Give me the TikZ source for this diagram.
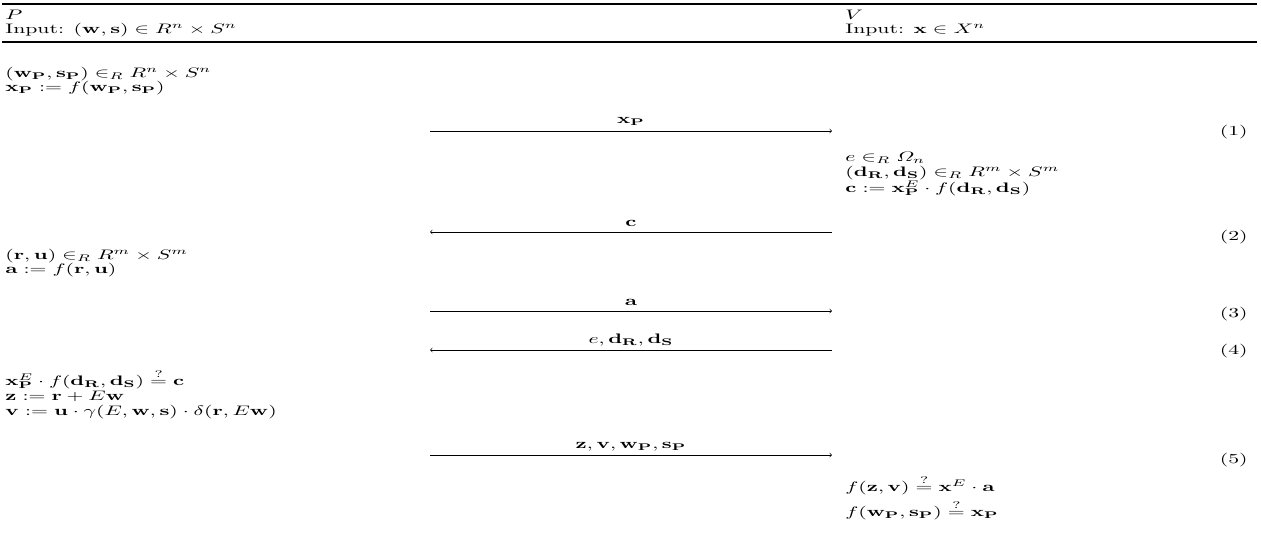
\documentclass[tikz,border=0pt]{standalone}
\usepackage{amsmath,amssymb}
\newcommand*{\Bw}{\mathbf{w}}
\newcommand*{\Bs}{\mathbf{s}}
\newcommand*{\Bx}{\mathbf{x}}
\newcommand*{\Bd}{\mathbf{d}}
\newcommand*{\Bc}{\mathbf{c}}
\newcommand*{\Br}{\mathbf{r}}
\newcommand*{\Bu}{\mathbf{u}}
\newcommand*{\Ba}{\mathbf{a}}
\newcommand*{\Bz}{\mathbf{z}}
\newcommand*{\Bv}{\mathbf{v}}
\newcommand*{\BP}{\mathbf{P}}
\newcommand*{\BR}{\mathbf{R}}
\newcommand*{\BS}{\mathbf{S}}
\tikzset{
  stretch/.style={xscale=1.74, yscale=1.1},
  txt/.style={inner sep=0pt, anchor=base west, stretch},
  lbl/.style={inner sep=0pt, anchor=base, stretch},
  eqn/.style={inner sep=0pt, anchor=base east, stretch},
  msg/.style={draw=black, line width=0.5pt, -to},
  toprule/.style={line width=2pt},
  midrule/.style={line width=0.9pt}
}
\begin{document}
\begin{tikzpicture}[x=0.8pt,y=-0.8pt]
\useasboundingbox (0,0) rectangle (1261,533);
% rules
\coordinate (tl) at (2,4); \coordinate (tr) at (1257,4);
\coordinate (ml) at (2,42); \coordinate (mr) at (1257,42);
\draw[toprule] (tl) -- (tr);
\draw[midrule] (ml) -- (mr);
% header
\node[txt] (P) at (5,19) {$P$};
\node[txt] (Pin) at (5,33) {Input: $(\Bw,\Bs) \in R^n \times S^n$};
\node[txt] (V) at (845,19) {$V$};
\node[txt] (Vin) at (845,33) {Input: $\Bx \in X^n$};
% prover step 0
\node[txt] (p1) at (5,77) {$(\Bw_{\BP},\Bs_{\BP}) \in_R R^n \times S^n$};
\node[txt] (p2) at (5,91) {$\Bx_{\BP} := f(\Bw_{\BP},\Bs_{\BP})$};
% message 1
\coordinate (m1s) at (430,131); \coordinate (m1e) at (832,131);
\draw[msg] (m1s) -- (m1e);
\node[lbl] (l1) at (631,123) {$\Bx_{\BP}$};
\node[eqn] (e1) at (1248,135) {(1)};
% verifier
\node[txt] (v1) at (845,161) {$e \in_R \varOmega_n$};
\node[txt] (v2) at (845,176) {$(\Bd_{\BR},\Bd_{\BS}) \in_R R^m \times S^m$};
\node[txt] (v3) at (845,192) {$\Bc := \Bx_{\BP}^E \cdot f(\Bd_{\BR},\Bd_{\BS})$};
% message 2
\coordinate (m2s) at (832,232); \coordinate (m2e) at (430,232);
\draw[msg] (m2s) -- (m2e);
\node[lbl] (l2) at (631,226) {$\Bc$};
\node[eqn] (e2) at (1248,240) {(2)};
% prover
\node[txt] (p3) at (5,259) {$(\Br,\Bu) \in_R R^m \times S^m$};
\node[txt] (p4) at (5,273) {$\Ba := f(\Br,\Bu)$};
% message 3
\coordinate (m3s) at (430,311); \coordinate (m3e) at (832,311);
\draw[msg] (m3s) -- (m3e);
\node[lbl] (l3) at (631,305) {$\Ba$};
\node[eqn] (e3) at (1248,317) {(3)};
% message 4
\coordinate (m4s) at (832,350); \coordinate (m4e) at (430,350);
\draw[msg] (m4s) -- (m4e);
\node[lbl] (l4) at (631,343) {$e,\Bd_{\BR},\Bd_{\BS}$};
\node[eqn] (e4) at (1248,354) {(4)};
% prover
\node[txt] (p5) at (5,385) {$\Bx_{\BP}^E \cdot f(\Bd_{\BR},\Bd_{\BS}) \stackrel{?}{=} \Bc$};
\node[txt] (p6) at (5,400) {$\Bz := \Br + E\Bw$};
\node[txt] (p7) at (5,415) {$\Bv := \Bu \cdot \gamma(E,\Bw,\Bs) \cdot \delta(\Br,E\Bw)$};
% message 5
\coordinate (m5s) at (430,455); \coordinate (m5e) at (832,455);
\draw[msg] (m5s) -- (m5e);
\node[lbl] (l5) at (631,448) {$\Bz,\Bv,\Bw_{\BP},\Bs_{\BP}$};
\node[eqn] (e5) at (1248,463) {(5)};
% verifier checks
\node[txt] (v4) at (845,491) {$f(\Bz,\Bv) \stackrel{?}{=} \Bx^E \cdot \Ba$};
\node[txt] (v5) at (845,516) {$f(\Bw_{\BP},\Bs_{\BP}) \stackrel{?}{=} \Bx_{\BP}$};
\end{tikzpicture}
\end{document}
